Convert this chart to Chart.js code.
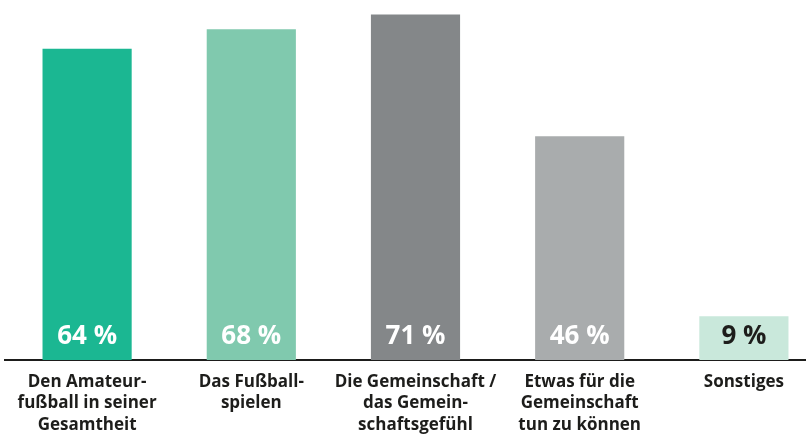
<!DOCTYPE html>
<html>
<head>
<meta charset="utf-8">
<script src="https://cdn.jsdelivr.net/npm/chart.js@4"></script>
<style>
  html, body { margin: 0; padding: 0; background: #fff; overflow: hidden; }
  #wrap { width: 826px; height: 434px; }
</style>
</head>
<body>
<div id="wrap"><canvas id="chart"></canvas></div>
<script>
const categories = [
    ['Den Amateur-', 'fußball in seiner', 'Gesamtheit'],
    ['Das Fußball-', 'spielen'],
    ['Die Gemeinschaft /', 'das Gemein-', 'schaftsgefühl'],
    ['Etwas für die', 'Gemeinschaft', 'tun zu können'],
    ['Sonstiges']
];
const values = [64, 68, 71, 46, 9];
const barColors = ['#1bb792', '#80c9ae', '#848789', '#a9acad', '#c9e8db'];
const valueColors = ['#ffffff', '#ffffff', '#ffffff', '#ffffff', '#1d1d1b'];

// Prozentwerte unten in die Balken schreiben
const valueLabels = {
    id: 'valueLabels',
    afterDatasetsDraw(chart) {
        const ctx = chart.ctx;
        const meta = chart.getDatasetMeta(0);
        ctx.save();
        ctx.font = 'bold 26px "Open Sans"';
        ctx.textAlign = 'center';
        ctx.textBaseline = 'middle';
        meta.data.forEach((bar, i) => {
            ctx.fillStyle = valueColors[i];
            ctx.fillText(values[i] + ' %', bar.x, bar.base - 23);
        });
        ctx.restore();
    }
};

const ctx = document.getElementById('chart').getContext('2d');
new Chart(ctx, {
    type: 'bar',
    data: {
        labels: categories,
        datasets: [{
            data: values,
            backgroundColor: barColors,
            borderWidth: 0,
            barPercentage: 0.543,
            categoryPercentage: 1
        }]
    },
    options: {
        responsive: true,
        maintainAspectRatio: false,
        animation: false,
        layout: { padding: { left: 5, right: 0, top: 0, bottom: 0 } },
        plugins: {
            legend: { display: false },
            tooltip: { enabled: false }
        },
        scales: {
            x: {
                grid: { display: false, drawTicks: false },
                border: { display: true, color: '#1d1d1b', width: 2 },
                ticks: {
                    color: '#1d1d1b',
                    font: { family: 'Open Sans', weight: 'bold', size: 17, lineHeight: 1.27 },
                    padding: 11,
                    maxRotation: 0,
                    autoSkip: false
                },
                afterFit(scale) { scale.height = 74; }
            },
            y: {
                display: false,
                min: 0,
                max: 74
            }
        }
    },
    plugins: [valueLabels]
});
</script>
</body>
</html>
